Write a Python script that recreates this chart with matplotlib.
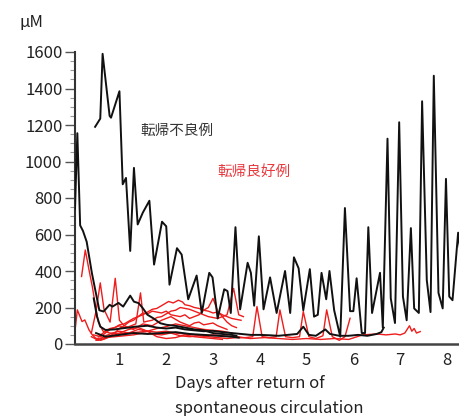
import matplotlib
matplotlib.use("Agg")
import matplotlib.pyplot as plt
from matplotlib.ticker import MultipleLocator

plt.rcParams['font.family'] = ['Noto Sans CJK JP', 'DejaVu Sans']

# ---- data: poor outcome (black) ----
poor_a_x = [0.48,0.59,0.64,0.79,0.82,1.0,1.07,1.14,1.23,1.31,1.39,1.5,1.64,1.74,1.91,2.0,2.07,2.23,2.33,2.47,2.65,2.76,2.92,2.99,3.1,3.24,3.31,3.38,3.48,3.58,3.74,3.81,3.88,3.98,4.08,4.22,4.36,4.54,4.65,4.73,4.83,4.93,5.07,5.16,5.24,5.32,5.42,5.49,5.59,5.72,5.82,5.93,6.0,6.07,6.18,6.25,6.32,6.4,6.57,6.63,6.73,6.8,6.89,6.98,7.06,7.14,7.23,7.3,7.4,7.47,7.57,7.65,7.72,7.82,7.91,7.98,8.05,8.12,8.24,8.3]
poor_a_y = [1190,1235,1590,1250,1240,1385,875,910,510,965,655,720,785,435,670,645,325,525,490,245,375,170,390,365,140,300,290,170,640,190,445,390,210,590,190,365,170,400,170,475,415,185,410,150,160,390,245,400,185,40,745,180,180,360,60,60,640,170,390,90,1125,250,115,1215,260,130,635,195,170,1330,350,175,1470,280,195,905,260,240,610,480]

poor_b_x = [0.05,0.1,0.16,0.22,0.3,0.41,0.48,0.57,0.66,0.79,0.85,0.98,1.08,1.23,1.31,1.41,1.5,1.6,1.73,1.87,2.01,2.19,2.4,2.6,2.8,3.0,3.2,3.4,3.5]
poor_b_y = [740,1155,650,620,560,390,300,185,178,215,205,225,205,265,232,224,196,160,140,114,105,100,90,80,75,60,55,50,45]

poor_c_x = [0.45,0.52,0.59,0.7,0.9,1.06,1.2,1.34,1.5,1.6,1.8,2.0,2.2,2.4,2.6,2.8,3.0,3.2,3.4,3.6,3.8,4.0,4.2,4.4,4.6,4.8,4.93,5.05,5.2,5.4,5.5,5.7,5.9,6.1,6.3,6.5,6.6,6.65]
poor_c_y = [250,150,95,77,80,86,90,95,98,100,90,85,90,80,75,70,72,65,60,55,50,50,48,45,50,55,95,50,45,80,55,45,45,50,45,55,65,90]

poor_d_x = [0.5,0.7,1.0,1.3,1.6,1.9,2.2,2.5,2.8,3.1,3.4,3.55]
poor_d_y = [60,40,50,60,55,60,65,55,50,45,40,35]

# ---- data: good outcome (red) ----
good_1_x = [0.19,0.27,0.35,0.42,0.49,0.55,0.65,0.8,1.0,1.2,1.4,1.6,1.8,2.0,2.2,2.4,2.6,2.8,3.0,3.2,3.4,3.6]
good_1_y = [370,515,405,315,205,120,70,60,55,60,65,70,65,70,60,55,50,45,50,45,40,35]
good_2_x = [0.06,0.1,0.2,0.26,0.35,0.42,0.5,0.6,0.8,1.0,1.2,1.4,1.6,1.8,2.0,2.2,2.4,2.6,2.8,3.0,3.2,3.4]
good_2_y = [95,187,123,132,77,50,30,20,40,60,80,90,70,85,95,110,100,90,80,75,70,60]
good_3_x = [0.4,0.5,0.59,0.67,0.8,0.91,1.0,1.1,1.2,1.3,1.4,1.5,1.6,1.7,1.8,1.9,2.05,2.15,2.26,2.35,2.4,2.5,2.6,2.7,2.8,2.9,3.0,3.1,3.2,3.3,3.4,3.5,3.6]
good_3_y = [60,180,335,190,120,360,130,100,120,130,150,160,175,190,195,210,233,225,240,230,215,210,200,195,185,180,170,175,160,150,140,135,130]
good_4_x = [0.45,0.6,0.8,1.0,1.1,1.2,1.35,1.45,1.52,1.6,1.7,1.8,1.9,2.0,2.1,2.2,2.3,2.4,2.5,2.6,2.7,2.8,2.9,3.0,3.1,3.2,3.3,3.44,3.55,3.65]
good_4_y = [50,40,80,100,90,95,110,280,120,125,130,145,150,165,180,185,200,195,190,180,170,160,150,145,140,150,160,305,160,150]
good_5_x = [0.5,0.7,0.9,1.1,1.3,1.5,1.7,1.9,2.1,2.3,2.5,2.7,2.9,3.1,3.3,3.5,3.7,3.85,3.94,4.05,4.2,4.35,4.43,4.55,4.7,4.85,4.93,5.05,5.2,5.35,5.43,5.55,5.7,5.82,5.93]
good_5_y = [30,35,40,45,50,60,55,50,60,45,40,45,40,35,30,35,35,40,205,40,35,40,187,40,35,40,178,40,30,45,187,40,20,40,141]
good_6_x = [3.5,3.8,4.1,4.4,4.7,5.0,5.3,5.6,5.9,6.2,6.5,6.7,6.9,7.0,7.1,7.2,7.25,7.3,7.35,7.43]
good_6_y = [40,30,35,30,25,30,25,30,25,50,55,50,55,50,60,100,70,85,60,68]
good_7_x = [0.55,0.7,0.8,0.9,1.0,1.1,1.2,1.3,1.4,1.5,1.6,1.7,1.8,1.9,2.0,2.1,2.2,2.3,2.4,2.5,2.6,2.7,2.8,2.9,3.0,3.1,3.2,3.3,3.4,3.5]
good_7_y = [40,70,85,90,105,110,125,140,150,170,165,180,175,170,180,160,155,150,160,140,150,160,185,200,250,180,150,120,100,90]
good_8_x = [0.5,0.7,0.9,1.0,1.1,1.2,1.3,1.4,1.5,1.6,1.7,1.8,1.9,2.0,2.1,2.2,2.3,2.4,2.5,2.6,2.7,2.8,2.9,3.0,3.1,3.2,3.3]
good_8_y = [20,30,60,85,100,90,80,95,110,105,100,115,130,140,150,135,120,110,100,115,120,105,110,115,100,90,80]
good_9_x = [0.4,0.55,0.7,0.85,1.0,1.2,1.4,1.6,1.8,2.0,2.2,2.4,2.6,2.8,3.0,3.2]
good_9_y = [40,20,45,60,70,60,80,70,40,30,35,50,40,35,30,25]

x_ticks = [1, 2, 3, 4, 5, 6, 7, 8]
y_ticks = [0, 200, 400, 600, 800, 1000, 1200, 1400, 1600]

poor = [(poor_a_x, poor_a_y), (poor_b_x, poor_b_y), (poor_c_x, poor_c_y), (poor_d_x, poor_d_y)]
good = [(good_1_x, good_1_y), (good_2_x, good_2_y), (good_3_x, good_3_y),
        (good_4_x, good_4_y), (good_5_x, good_5_y), (good_6_x, good_6_y),
        (good_7_x, good_7_y), (good_8_x, good_8_y), (good_9_x, good_9_y)]

fig = plt.figure(figsize=(4.6, 4.16), dpi=100)
ax = fig.add_axes([75/460, 1-344/416, 1-75/460, (344-52)/416])

for xs, ys in good:
    ax.plot(xs, ys, color='#ee1c1c', lw=1.0, zorder=2)
for xs, ys in poor:
    ax.plot(xs, ys, color='#111111', lw=1.4, zorder=3)

ax.set_xlim(0.05, 8.28)
ax.set_ylim(0, 1600)
ax.set_xticks(x_ticks)
ax.set_yticks(y_ticks)
ax.yaxis.set_minor_locator(MultipleLocator(50))
ax.tick_params(axis='x', length=0, pad=6, labelsize=12, colors='#222222')
ax.tick_params(axis='y', which='major', length=7, width=1.0, color='#555555', labelsize=12, labelcolor='#222222', pad=2)
ax.tick_params(axis='y', which='minor', length=3.5, width=0.8, color='#999999')
for s in ['top', 'right']:
    ax.spines[s].set_visible(False)
ax.spines['left'].set_color('#333333')
ax.spines['left'].set_linewidth(1.5)
ax.spines['bottom'].set_color('#444444')
ax.spines['bottom'].set_linewidth(1.8)

ax.text(2.23, 1167, '転帰不良例', color='#333333', fontsize=10.5, ha='center', va='center')
ax.text(3.88, 941, '転帰良好例', color='#e8383d', fontsize=10.5, ha='center', va='center')

fig.text(20/460, 1-22/416, 'μM', fontsize=12, ha='left', va='center', color='#222222')
fig.text(175/460, 1-396/416, 'Days after return of\nspontaneous circulation', fontsize=12,
         ha='left', va='center', color='#222222', linespacing=1.6)

fig.savefig('out.png', dpi=100)
